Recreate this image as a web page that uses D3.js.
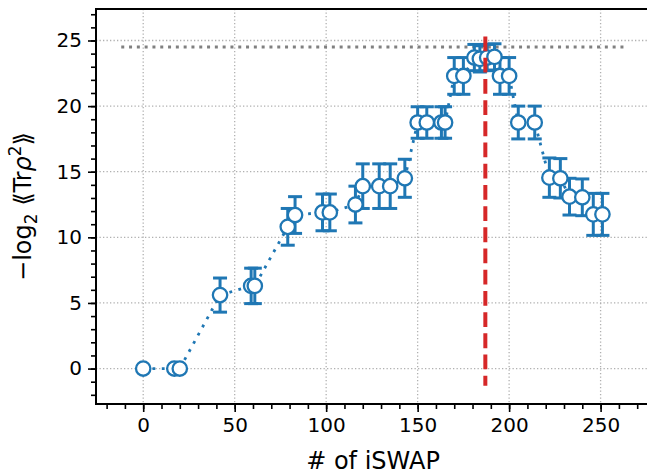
<!DOCTYPE html>
<html>
<head>
<meta charset="utf-8">
<script src="https://cdn.jsdelivr.net/npm/d3@7"></script>
<style>
  body { margin: 0; background: #fff; }
  text { font-family: "DejaVu Sans", sans-serif; fill: #000; }
</style>
</head>
<body>
<div id="container"></div>
<script>
// measured points: # of iSWAP, -log2 purity, error
const gates = [0, 17, 20, 42, 59, 61, 79, 83, 98, 102, 116, 120, 129, 135, 143, 150, 155, 163, 165, 170, 175, 181, 184, 188, 192, 195, 200, 205, 214, 222, 228, 233, 240, 246, 251];
const purity = [0, 0, 0, 5.6, 6.3, 6.3, 10.8, 11.7, 11.9, 11.9, 12.5, 13.9, 13.9, 13.9, 14.5, 18.75, 18.75, 18.75, 18.75, 22.3, 22.3, 23.7, 23.6, 23.7, 23.75, 22.3, 22.3, 18.75, 18.75, 14.55, 14.5, 13.1, 13.05, 11.75, 11.75];
const errors = [0, 0, 0, 1.3, 1.35, 1.35, 1.4, 1.4, 1.4, 1.4, 1.4, 1.7, 1.7, 1.7, 1.45, 1.2, 1.2, 1.2, 1.2, 1.4, 1.4, 1.0, 1.0, 1.0, 1.0, 1.4, 1.4, 1.25, 1.25, 1.5, 1.5, 1.4, 1.4, 1.6, 1.6];

const limitY = 24.5;            // grey dotted level
const limitX = [-12, 264];
const peakX = 187;              // red dashed marker
const peakY = [-1.3, 25.3];

const xTicks = [0, 50, 100, 150, 200, 250];
const yTicks = [0, 5, 10, 15, 20, 25];

const width = 647;
const height = 474;
const box = { left: 96, right: 650, top: 9, bot: 404 };

const svg = d3.select("#container")
              .append("svg")
              .attr("width", width)
              .attr("height", height);

const xScale = d3.scaleLinear()
                 .domain([-25.8, 277])
                 .range([box.left, box.right]);
const yScale = d3.scaleLinear()
                 .domain([-2.7, 27.4])
                 .range([box.bot, box.top]);

const blue = "#1f77b4";

svg.append("clipPath")
   .attr("id", "clip")
   .append("rect")
   .attr("x", box.left)
   .attr("y", box.top)
   .attr("width", box.right - box.left)
   .attr("height", box.bot - box.top);

// grid
const grid = svg.append("g").attr("clip-path", "url(#clip)");
grid.selectAll(".gx")
    .data(xTicks)
    .enter()
    .append("line")
    .attr("x1", (d) => xScale(d))
    .attr("x2", (d) => xScale(d))
    .attr("y1", box.top)
    .attr("y2", box.bot)
    .style("stroke", "#b0b0b0")
    .style("stroke-width", 1.3)
    .style("stroke-dasharray", "1.3,2.2");
grid.selectAll(".gy")
    .data(yTicks)
    .enter()
    .append("line")
    .attr("y1", (d) => yScale(d))
    .attr("y2", (d) => yScale(d))
    .attr("x1", box.left)
    .attr("x2", box.right)
    .style("stroke", "#b0b0b0")
    .style("stroke-width", 1.3)
    .style("stroke-dasharray", "1.3,2.2");

const plot = svg.append("g").attr("clip-path", "url(#clip)");

plot.append("line")
    .attr("x1", xScale(limitX[0]))
    .attr("x2", xScale(limitX[1]))
    .attr("y1", yScale(limitY))
    .attr("y2", yScale(limitY))
    .style("stroke", "#808080")
    .style("stroke-width", 3)
    .style("stroke-dasharray", "3,4.8");

const points = gates.map((g, i) => ({ x: g, y: purity[i], e: errors[i] }));

// error bars
const bars = plot.selectAll(".bar")
                 .data(points.filter((d) => d.e > 0))
                 .enter()
                 .append("g");
bars.append("line")
    .attr("x1", (d) => xScale(d.x))
    .attr("x2", (d) => xScale(d.x))
    .attr("y1", (d) => yScale(d.y - d.e))
    .attr("y2", (d) => yScale(d.y + d.e))
    .style("stroke", blue)
    .style("stroke-width", 3);
[-1, 1].forEach((s) => {
  bars.append("line")
      .attr("x1", (d) => xScale(d.x) - 7)
      .attr("x2", (d) => xScale(d.x) + 7)
      .attr("y1", (d) => yScale(d.y + s * d.e))
      .attr("y2", (d) => yScale(d.y + s * d.e))
      .style("stroke", blue)
      .style("stroke-width", 3);
});

plot.append("path")
    .datum(points)
    .attr("d", d3.line().x((d) => xScale(d.x)).y((d) => yScale(d.y)))
    .style("fill", "none")
    .style("stroke", blue)
    .style("stroke-width", 2.8)
    .style("stroke-dasharray", "2.8,6.5");

plot.selectAll("circle")
    .data(points)
    .enter()
    .append("circle")
    .attr("cx", (d) => xScale(d.x))
    .attr("cy", (d) => yScale(d.y))
    .attr("r", 7.2)
    .style("fill", "#fff")
    .style("stroke", blue)
    .style("stroke-width", 2.3);

plot.append("line")
    .attr("x1", xScale(peakX))
    .attr("x2", xScale(peakX))
    .attr("y1", yScale(peakY[1]))
    .attr("y2", yScale(peakY[0]))
    .style("stroke", "#d62728")
    .style("stroke-width", 4)
    .style("stroke-dasharray", "14.8,6.4");

// axes
const xAxis = d3.axisBottom(xScale).tickValues(xTicks).tickSize(8).tickPadding(6).tickFormat(d3.format("d"));
const xMinor = d3.axisBottom(xScale).tickValues(d3.range(-20, 280, 10)).tickSize(5).tickFormat("");
const yAxis = d3.axisLeft(yScale).tickValues(yTicks).tickSize(8).tickPadding(6).tickFormat(d3.format("d"));
const yMinor = d3.axisLeft(yScale).tickValues(d3.range(-2, 28, 1)).tickSize(5).tickFormat("");

[[xMinor, "x"], [xAxis, "x"], [yMinor, "y"], [yAxis, "y"]].forEach(([ax, k]) => {
  const g = svg.append("g")
               .attr("transform", k == "x" ? "translate(0," + box.bot + ")" : "translate(" + box.left + ",0)")
               .call(ax);
  g.select(".domain").remove();
  g.selectAll("line").style("stroke", "#000").style("stroke-width", 1.6);
  g.selectAll("text").style("font-size", "20px").style("font-family", "DejaVu Sans");
});

svg.append("path")
   .attr("d", "M" + box.right + "," + box.top + "H" + box.left + "V" + box.bot + "H" + box.right + "V" + box.top)
   .style("fill", "none")
   .style("stroke", "#000")
   .style("stroke-width", 2);

svg.append("text")
   .text("# of iSWAP")
   .attr("text-anchor", "middle")
   .attr("x", (box.left + box.right) / 2)
   .attr("y", 469)
   .style("font-size", "24px");

const yLabel = svg.append("text")
                  .attr("text-anchor", "middle")
                  .attr("transform", "translate(31," + (box.top + box.bot) / 2 + ")rotate(-90)")
                  .style("font-size", "24px");
yLabel.append("tspan").text("\u2212log");
yLabel.append("tspan").text("2").attr("dy", 6).style("font-size", "17px");
yLabel.append("tspan").text(" \u27EATr").attr("dy", -6);
yLabel.append("tspan").text("\u03C1").style("font-style", "italic");
yLabel.append("tspan").text("2").attr("dy", -10).style("font-size", "17px");
yLabel.append("tspan").text("\u27EB").attr("dy", 10);
</script>
</body>
</html>
